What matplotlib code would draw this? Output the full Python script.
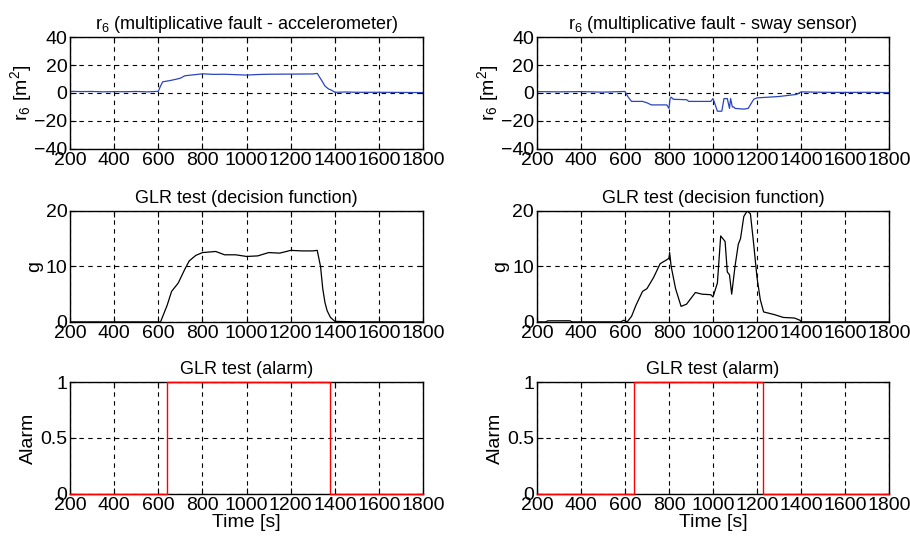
import matplotlib
matplotlib.use('Agg')
import matplotlib.pyplot as plt
import numpy as np

plt.rcParams['font.family'] = ['Liberation Sans', 'DejaVu Sans']
plt.rcParams['mathtext.default'] = 'regular'

# residual r6, accelerometer fault
t_r_acc = [200, 250, 300, 350, 400, 450, 500, 550, 600, 610, 620, 650, 680, 700,
           720, 760, 800, 850, 900, 1000, 1050, 1100, 1200, 1300, 1320, 1340,
           1355, 1370, 1385, 1400, 1450, 1500, 1600, 1700, 1800]
r_acc = [1.2, 1.0, 1.1, 0.8, 1.0, 0.9, 1.1, 0.8, 1.2, 5.0, 8.0, 8.8, 9.8, 10.6,
         12.3, 13.0, 13.7, 13.3, 13.4, 12.8, 13.2, 13.4, 13.5, 13.6, 14.0, 9.0,
         5.0, 3.0, 2.0, 0.5, 0.7, 0.5, 0.5, 0.4, 0.3]

# residual r6, sway sensor fault
t_r_sway = [200, 300, 400, 500, 600, 615, 630, 680, 700, 720, 790, 800, 805, 810,
            820, 880, 890, 990, 1000, 1005, 1020, 1040, 1050, 1065, 1075, 1080,
            1088, 1095, 1100, 1140, 1160, 1185, 1200, 1300, 1380, 1400, 1500,
            1600, 1700, 1800]
r_sway = [1.0, 0.8, 1.0, 0.6, 1.1, -3.0, -6.0, -6.0, -7.0, -8.5, -8.5, -11.0,
          -4.0, -3.0, -4.5, -4.8, -6.0, -6.0, -4.0, -6.0, -13.0, -13.0, -4.0,
          -4.0, -11.0, -4.0, -10.0, -10.0, -11.0, -11.5, -11.0, -4.5, -3.5,
          -2.5, -1.0, 0.8, 0.5, 0.4, 0.5, 0.3]

# GLR decision function, accelerometer
t_g_acc = [200, 400, 600, 610, 625, 640, 660, 690, 720, 740, 770, 800, 860, 900,
           950, 1000, 1050, 1100, 1150, 1200, 1250, 1300, 1320, 1335, 1345,
           1355, 1365, 1380, 1400, 1500, 1800]
g_acc = [0.0, 0.0, 0.0, 0.0, 1.5, 3.0, 5.5, 7.0, 9.5, 11.0, 12.0, 12.5, 12.7,
         12.1, 12.1, 11.8, 11.9, 12.5, 12.4, 12.9, 12.8, 12.8, 12.9, 10.0, 6.0,
         3.5, 2.0, 0.8, 0.1, 0.0, 0.0]

# GLR decision function, sway sensor
t_g_sway = [200, 240, 250, 350, 360, 580, 595, 610, 630, 650, 680, 700, 730,
            760, 790, 800, 803, 810, 830, 855, 880, 920, 950, 990, 1000, 1020,
            1035, 1055, 1065, 1075, 1085, 1100, 1115, 1125, 1140, 1155, 1170,
            1185, 1200, 1215, 1230, 1280, 1320, 1370, 1395, 1400, 1800]
g_sway = [0.0, 0.0, 0.2, 0.2, 0.0, 0.0, 0.3, 0.0, 1.0, 3.0, 5.5, 6.0, 8.0,
          10.5, 11.2, 11.5, 12.5, 10.0, 6.0, 2.8, 3.2, 5.3, 5.0, 4.9, 4.5, 7.0,
          15.5, 14.5, 9.0, 8.5, 5.0, 10.0, 14.0, 15.0, 19.0, 20.0, 19.5, 14.0,
          8.0, 4.0, 1.8, 1.3, 0.8, 0.7, 0.3, 0.0, 0.0]

# alarm switching times
alarm_acc = [640, 1378]
alarm_sway = [641, 1228]

xticks = [200, 400, 600, 800, 1000, 1200, 1400, 1600, 1800]

fig = plt.figure(figsize=(9.1, 5.41), dpi=100)

col_x = [0.077, 0.590]
col_w = [0.388, 0.387]
row_y = [0.7246, 0.405, 0.0869]
row_h = [0.207, 0.205, 0.207]

fs = 14


def style_ax(ax, ylim, yticks):
    ax.set_xlim(200, 1800)
    ax.set_ylim(*ylim)
    ax.set_xticks(xticks)
    ax.set_yticks(yticks)
    ax.grid(True, color='black', linestyle=(0, (4, 4)), linewidth=0.8)
    ax.tick_params(direction='in', length=4, top=True, right=True,
                   labelsize=fs, pad=2)
    for s in ax.spines.values():
        s.set_linewidth(1.0)


axes = {}
for r in range(3):
    for c in range(2):
        axes[(r, c)] = fig.add_axes([col_x[c], row_y[r], col_w[c], row_h[r]])

blue = '#2a45c0'

for c, (tt, rr, ttl) in enumerate([
        (t_r_acc, r_acc, 'r$_6$ (multiplicative fault - accelerometer)'),
        (t_r_sway, r_sway, 'r$_6$ (multiplicative fault - sway sensor)')]):
    ax = axes[(0, c)]
    ax.plot(tt, rr, color=blue, linewidth=0.9)
    style_ax(ax, (-40, 40), [-40, -20, 0, 20, 40])
    ax.set_title(ttl, fontsize=13, pad=6)
    ax.set_ylabel('r$_6$ [m$^2$]', fontsize=fs, labelpad=0)

for c, (tt, gg) in enumerate([(t_g_acc, g_acc), (t_g_sway, g_sway)]):
    ax = axes[(1, c)]
    ax.plot(tt, gg, color='black', linewidth=0.9)
    style_ax(ax, (0, 20), [0, 10, 20])
    ax.set_title('GLR test (decision function)', fontsize=13, pad=6)
    ax.set_ylabel('g', fontsize=fs, labelpad=2)

for c, (on, off) in enumerate([alarm_acc, alarm_sway]):
    ax = axes[(2, c)]
    ax.plot([200, on, on, off, off, 1800], [0, 0, 1, 1, 0, 0],
            color='red', linewidth=1.0, clip_on=False, zorder=3)
    style_ax(ax, (0, 1), [0, 0.5, 1])
    ax.set_yticklabels(['0', '0.5', '1'])
    ax.set_title('GLR test (alarm)', fontsize=13, pad=6)
    ax.set_ylabel('Alarm', fontsize=fs, labelpad=2)
    ax.set_xlabel('Time [s]', fontsize=fs, labelpad=0)

fig.savefig('out.png', dpi=100)
